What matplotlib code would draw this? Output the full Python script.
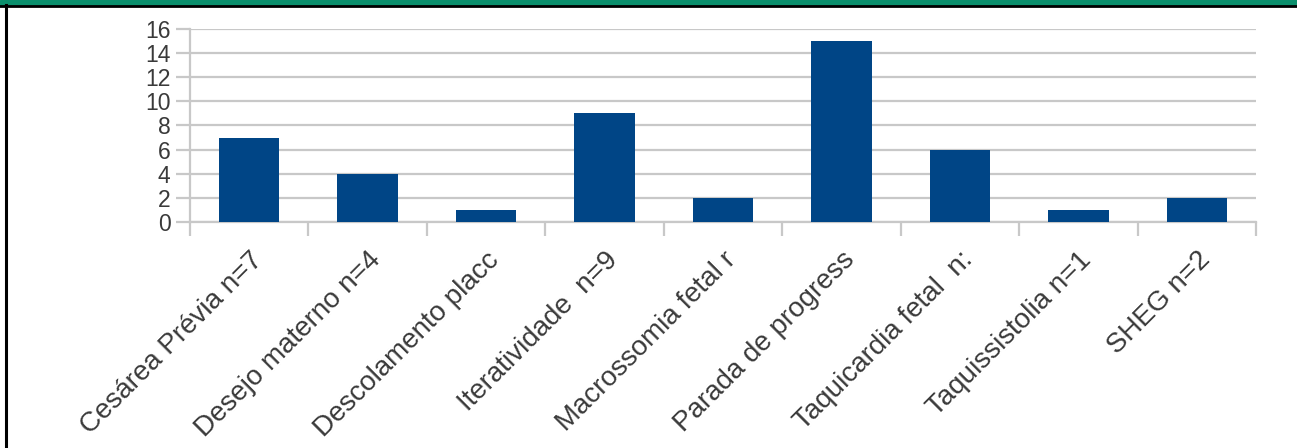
import matplotlib
matplotlib.use("Agg")
from matplotlib import pyplot as plt
from matplotlib.patches import Rectangle
from matplotlib.lines import Line2D

categories = [
    "Cesárea Prévia n=7",
    "Desejo materno n=4",
    "Descolamento placc",
    "Iteratividade  n=9",
    "Macrossomia fetal r",
    "Parada de progress",
    "Taquicardia fetal  n:",
    "Taquissistolia n=1",
    "SHEG n=2",
]
values = [7, 4, 1, 9, 2, 15, 6, 1, 2]
y_ticks = [0, 2, 4, 6, 8, 10, 12, 14, 16]

W, H = 1297, 448
plt.rcParams["font.family"] = ["Liberation Sans", "DejaVu Sans"]

fig = plt.figure(figsize=(W / 100, H / 100), dpi=100)
fig.patch.set_facecolor("white")

# axes box in pixel terms: x 190..1256, y 29..222 (from top)
ax = fig.add_axes([190 / W, 1 - 222 / H, (1256 - 190) / W, (222 - 29) / H])

grid_color = "#c8c8c8"
positions = list(range(len(categories)))
ax.bar(positions, values, width=0.51, color="#004586", zorder=3)

ax.set_xlim(-0.5, len(categories) - 0.5)
ax.set_ylim(0, 16)
ax.set_yticks(y_ticks)
ax.set_yticklabels([str(t) for t in y_ticks], fontsize=16.5, color="#3a3a3a")
ax.yaxis.grid(True, color=grid_color, linewidth=1.6, zorder=0)
ax.set_axisbelow(True)

ax.set_xticks(positions)
ax.set_xticklabels(categories, rotation=45, ha="right", va="top",
                   rotation_mode="anchor", fontsize=20, color="#3a3a3a")
ax.set_xticks([p - 0.5 for p in positions] + [len(categories) - 0.5], minor=True)
ax.tick_params(axis="x", which="major", length=0, pad=18)
ax.tick_params(axis="x", which="minor", length=10, width=1.6, color=grid_color)
ax.tick_params(axis="y", length=10, width=1.6, color=grid_color, pad=4)

for side in ["top", "right"]:
    ax.spines[side].set_visible(False)
for side in ["left", "bottom"]:
    ax.spines[side].set_color(grid_color)
    ax.spines[side].set_linewidth(1.6)

# frame decoration: green band on top, black lines below it and on the left
fig.add_artist(Rectangle((0, 1 - 5 / H), 1, 5 / H, transform=fig.transFigure,
                         color="#0b8f6c", zorder=10))
fig.add_artist(Line2D([0, 1], [1 - 6 / H, 1 - 6 / H], transform=fig.transFigure,
                      color="black", linewidth=2, zorder=10))
fig.add_artist(Line2D([5.5 / W, 5.5 / W], [0, 1 - 5 / H], transform=fig.transFigure,
                      color="black", linewidth=2.2, zorder=10))

fig.savefig("out.png", dpi=100)
